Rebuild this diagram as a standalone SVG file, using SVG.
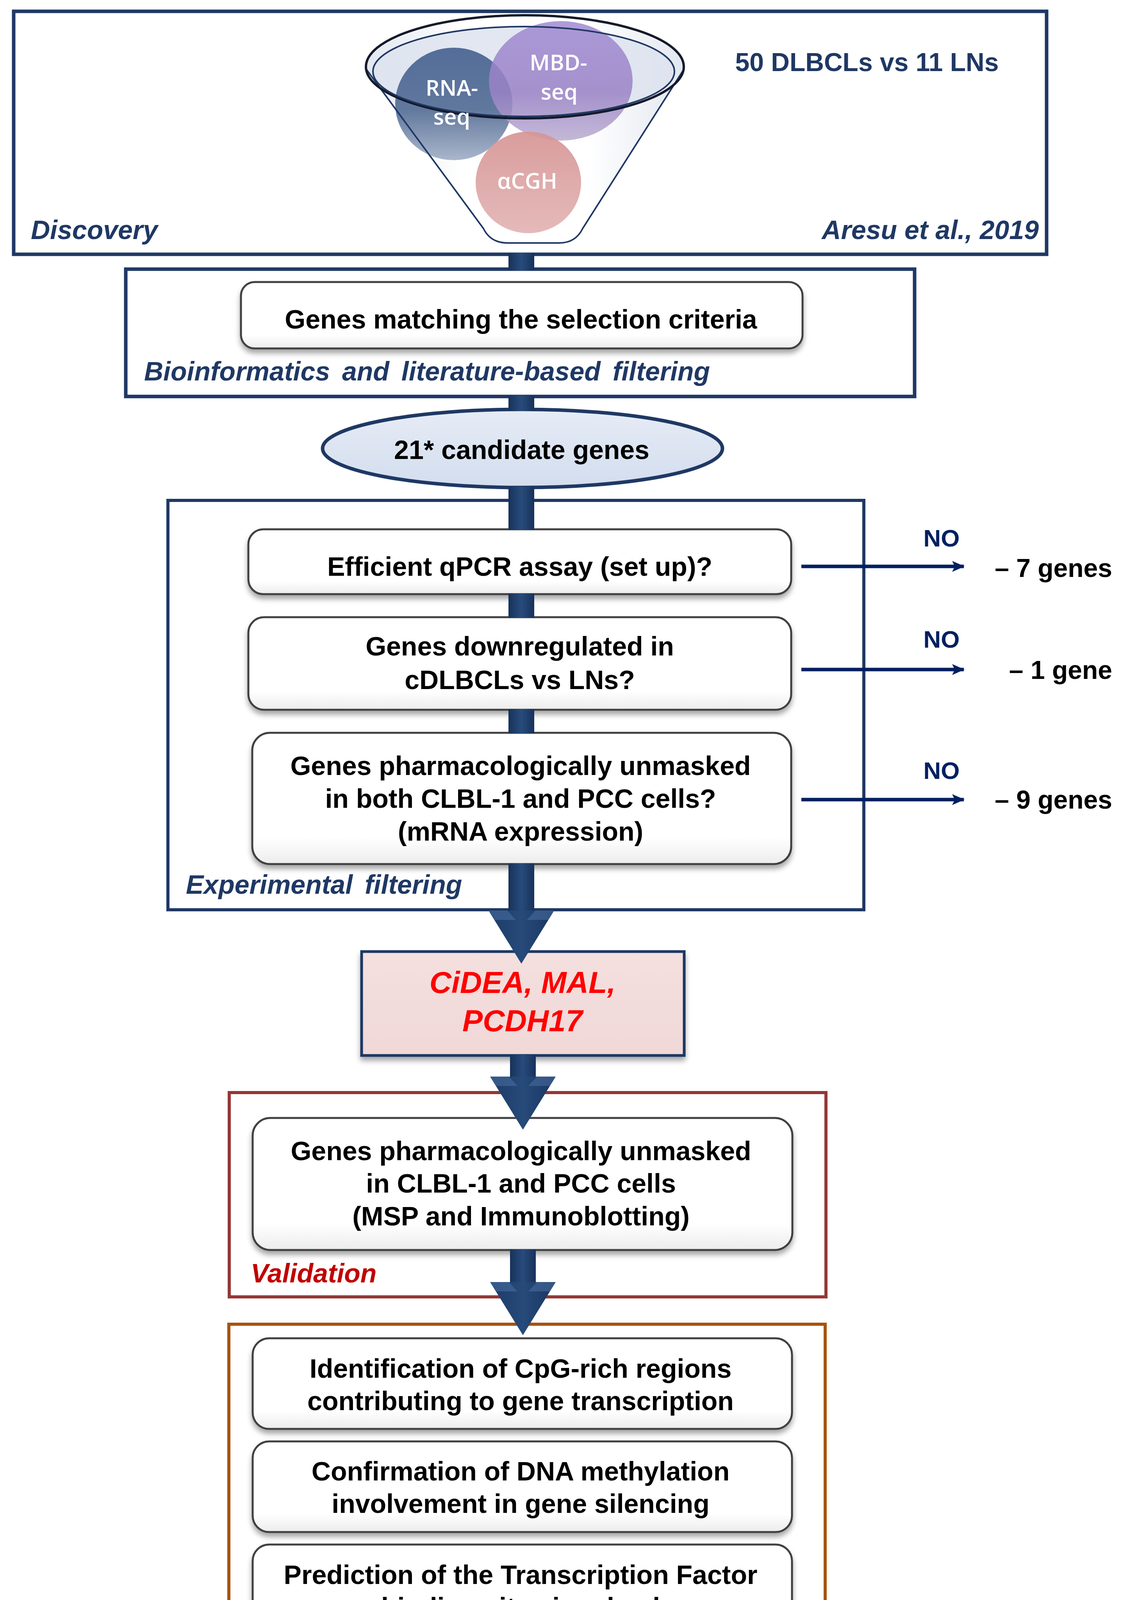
<svg xmlns="http://www.w3.org/2000/svg" width="2891" height="4517" viewBox="0 0 2891 4517">
<style>
.bt{font-family:"Liberation Sans",Arial,sans-serif;font-weight:bold;font-size:68px;fill:#000;text-anchor:middle}
.lbl{font-family:"Liberation Sans",Arial,sans-serif;font-weight:bold;font-style:italic;font-size:68px}
.side{font-family:"Liberation Sans",Arial,sans-serif;font-weight:bold;font-size:66px;fill:#000;text-anchor:end}
.no{font-family:"Liberation Sans",Arial,sans-serif;font-weight:bold;font-size:62px;fill:#002060;text-anchor:middle}
.rbox{fill:url(#boxGrad);stroke:#404040;stroke-width:5;filter:url(#shadow)}
.ct{font-family:"Open Sans","Liberation Sans",sans-serif;font-weight:600;font-size:56px;fill:#fff;text-anchor:middle}
.bar{fill:url(#barGrad)}
.noarrow{stroke:#002060;stroke-width:9;fill:none;marker-end:url(#head)}
</style>
<defs>
<linearGradient id="boxGrad" x1="0" y1="0" x2="0" y2="1"><stop offset="0" stop-color="#ffffff"/><stop offset="0.8" stop-color="#ffffff"/><stop offset="1" stop-color="#ececec"/></linearGradient>
<linearGradient id="barGrad" x1="0" y1="0" x2="1" y2="0"><stop offset="0" stop-color="#17325a"/><stop offset="0.5" stop-color="#284b7c"/><stop offset="1" stop-color="#17325a"/></linearGradient>
<linearGradient id="arrowGrad" x1="0" y1="0" x2="1" y2="0"><stop offset="0" stop-color="#1d3b68"/><stop offset="0.5" stop-color="#264a7a"/><stop offset="1" stop-color="#1a355f"/></linearGradient>
<linearGradient id="ellGrad" x1="0" y1="0" x2="0" y2="1"><stop offset="0" stop-color="#e6ecf6"/><stop offset="1" stop-color="#d3ddee"/></linearGradient>
<linearGradient id="rnaGrad" x1="0" y1="0" x2="0" y2="1"><stop offset="0" stop-color="#4b6794"/><stop offset="0.55" stop-color="#5a7299"/><stop offset="1" stop-color="#a5b2c8"/></linearGradient>
<linearGradient id="mbdGrad" x1="0" y1="0" x2="0" y2="1"><stop offset="0" stop-color="#a08ad2"/><stop offset="0.6" stop-color="#9a82c6"/><stop offset="1" stop-color="#b9accf"/></linearGradient>
<linearGradient id="cghGrad" x1="0" y1="0" x2="0" y2="1"><stop offset="0" stop-color="#d69494"/><stop offset="1" stop-color="#e3b4b4"/></linearGradient>
<linearGradient id="funGrad" x1="0" y1="0" x2="1" y2="0"><stop offset="0" stop-color="#dfe4ee"/><stop offset="0.3" stop-color="#ffffff"/><stop offset="0.7" stop-color="#ffffff"/><stop offset="1" stop-color="#dfe4ee"/></linearGradient>
<linearGradient id="cideaGrad" x1="0" y1="0" x2="0" y2="1"><stop offset="0" stop-color="#f4e0df"/><stop offset="1" stop-color="#f0d8d7"/></linearGradient>
<filter id="shadow" x="-5%" y="-10%" width="110%" height="130%"><feDropShadow dx="0" dy="10" stdDeviation="7" flood-color="#000" flood-opacity="0.35"/></filter>
<marker id="head" viewBox="0 0 32 28" refX="30" refY="14" markerWidth="32" markerHeight="28" markerUnits="userSpaceOnUse" orient="auto"><path d="M0,0 L32,14 L0,28 L7,14 Z" fill="#002060"/></marker>
<g id="bigArrow">
<polygon points="-84,0 84,0 0,136" fill="url(#arrowGrad)"/>
<polygon points="-84,0 -36,0 -14,24 -69,24" fill="#4a6fa3" opacity="0.55"/>
<polygon points="84,0 36,0 14,24 69,24" fill="#4a6fa3" opacity="0.55"/>
</g>
</defs>
<rect width="2891" height="4517" fill="#ffffff"/>

<g id="discovery">
<rect x="35" y="29" width="2645" height="622" fill="#fff" stroke="#1F3864" stroke-width="9"/>
<path d="M937,176 L1238,585 Q1256,622 1300,622 L1432,622 Q1474,622 1492,585 L1752,176 A407,132 0 0 0 937,176 Z" fill="url(#funGrad)" opacity="0.9"/>
<ellipse cx="1341" cy="183" rx="386" ry="115" fill="#dde3ef" opacity="0.85"/>
<ellipse cx="1162" cy="266" rx="150" ry="144" fill="url(#rnaGrad)" opacity="0.95"/>
<ellipse cx="1436" cy="207" rx="184" ry="153" fill="url(#mbdGrad)" opacity="0.85"/>
<ellipse cx="1353" cy="467" rx="135" ry="130" fill="url(#cghGrad)" opacity="0.92"/>
<path d="M937,176 L1238,585 Q1256,622 1300,622 L1432,622 Q1474,622 1492,585 L1752,176" fill="none" stroke="#1F3864" stroke-width="4"/>
<ellipse cx="1344" cy="171" rx="407" ry="132" fill="none" stroke="#141a2a" stroke-width="6"/>
<ellipse cx="1341" cy="183" rx="386" ry="115" fill="none" stroke="#1F3864" stroke-width="4"/>
<text class="ct" x="1157" y="245">RNA-</text>
<text class="ct" x="1157" y="319">seq</text>
<text class="ct" x="1430" y="180">MBD-</text>
<text class="ct" x="1432" y="255">seq</text>
<text class="ct" x="1350" y="483">αCGH</text>
<text class="bt" x="2220" y="182" style="fill:#1F3864;font-size:66px">50 DLBCLs vs 11 LNs</text>
<text class="lbl" x="79" y="612" fill="#1F3864">Discovery</text>
<text class="lbl" x="2660" y="612" fill="#1F3864" text-anchor="end">Aresu et al., 2019</text>
</g>

<g id="bioinformatics">
<rect x="322" y="689" width="2020" height="326" fill="#fff" stroke="#1F3864" stroke-width="9"/>
<rect class="rbox" x="617" y="722" width="1438" height="170" rx="35"/>
<text class="bt" x="1334" y="841">Genes matching the selection criteria</text>
<text class="lbl" x="369" y="974" fill="#1F3864" word-spacing="12">Bioinformatics and literature-based filtering</text>
</g>

<g id="experimental-frame">
<rect x="430" y="1281" width="1782" height="1048" fill="#fff" stroke="#1F3864" stroke-width="8"/>
<text class="lbl" x="476" y="2288" fill="#1F3864" word-spacing="12">Experimental filtering</text>
</g>

<g id="validation-frame">
<rect x="587" y="2797" width="1528" height="523" fill="#fff" stroke="#953735" stroke-width="8"/>
<text class="lbl" x="642" y="3283" fill="#C00000">Validation</text>
</g>

<g id="molecular-frame">
<rect x="586" y="3390" width="1527" height="925" fill="#fff" stroke="#A65310" stroke-width="8"/>
<text class="lbl" x="640" y="4267" fill="#A85512" word-spacing="12">Molecular studies</text>
</g>

<g id="candidates">
<ellipse cx="1338" cy="1148" rx="512" ry="100" fill="url(#ellGrad)" stroke="#1F3864" stroke-width="9"/>
<text class="bt" x="1336" y="1175">21* candidate genes</text>
</g>

<g id="qpcr">
<rect class="rbox" x="636" y="1355" width="1390" height="166" rx="38"/>
<text class="bt" x="1331" y="1474">Efficient qPCR assay (set up)?</text>
</g>

<g id="downregulated">
<rect class="rbox" x="636" y="1580" width="1390" height="237" rx="40"/>
<text class="bt" x="1331" y="1678">Genes downregulated in</text>
<text class="bt" x="1331" y="1764">cDLBCLs vs LNs?</text>
</g>

<g id="unmasked-mrna">
<rect class="rbox" x="646" y="1876" width="1380" height="336" rx="45"/>
<text class="bt" x="1333" y="1984">Genes pharmacologically unmasked</text>
<text class="bt" x="1333" y="2068">in both CLBL-1 and PCC cells?</text>
<text class="bt" x="1333" y="2152">(mRNA expression)</text>
</g>

<g id="excluded">
<text class="no" x="2411" y="1399">NO</text>
<text class="side" x="2848" y="1477">– 7 genes</text>
<text class="no" x="2411" y="1658">NO</text>
<text class="side" x="2848" y="1738">– 1 gene</text>
<text class="no" x="2411" y="1994">NO</text>
<text class="side" x="2848" y="2070">– 9 genes</text>
</g>

<g id="genes">
<rect x="926" y="2436" width="826" height="266" fill="url(#cideaGrad)" stroke="#1F3864" stroke-width="7" filter="url(#shadow)"/>
<text class="lbl" x="1338" y="2542" fill="#FF0000" text-anchor="middle" style="font-size:78px">CiDEA, MAL,</text>
<text class="lbl" x="1338" y="2640" fill="#FF0000" text-anchor="middle" style="font-size:78px">PCDH17</text>
</g>

<g id="validation-step">
<rect class="rbox" x="647" y="2862" width="1382" height="338" rx="45"/>
<text class="bt" x="1334" y="2970">Genes pharmacologically unmasked</text>
<text class="bt" x="1334" y="3053">in CLBL-1 and PCC cells</text>
<text class="bt" x="1334" y="3137">(MSP and Immunoblotting)</text>
</g>

<g id="cpg">
<rect class="rbox" x="647" y="3426" width="1381" height="232" rx="42"/>
<text class="bt" x="1333" y="3527">Identification of CpG-rich regions</text>
<text class="bt" x="1333" y="3610">contributing to gene transcription</text>
</g>

<g id="methylation">
<rect class="rbox" x="647" y="3690" width="1381" height="232" rx="42"/>
<text class="bt" x="1333" y="3790">Confirmation of DNA methylation</text>
<text class="bt" x="1333" y="3873">involvement in gene silencing</text>
</g>

<g id="tfbs">
<rect class="rbox" x="647" y="3954" width="1381" height="232" rx="42"/>
<text class="bt" x="1333" y="4055">Prediction of the Transcription Factor</text>
<text class="bt" x="1333" y="4138">binding sites involved</text>
</g>

<g id="footnote">
<text class="lbl" x="85" y="4472" fill="#000">* HOXD10 results have been published elsewhere</text>
</g>

<g id="connectors">
<rect class="bar" x="1302" y="647" width="66" height="46"/>
<rect class="bar" x="1302" y="1012" width="66" height="40"/>
<rect class="bar" x="1302" y="1246" width="66" height="111"/>
<rect class="bar" x="1302" y="1519" width="66" height="63"/>
<rect class="bar" x="1302" y="1815" width="66" height="63"/>
<rect class="bar" x="1302" y="2210" width="66" height="124"/>
<use href="#bigArrow" x="1335" y="2331"/>
<rect class="bar" x="1306" y="2700" width="66" height="58"/>
<use href="#bigArrow" x="1339" y="2756"/>
<rect class="bar" x="1306" y="3198" width="66" height="86"/>
<use href="#bigArrow" x="1339" y="3282"/>
<line class="noarrow" x1="2052" y1="1450" x2="2468" y2="1450"/>
<line class="noarrow" x1="2052" y1="1714" x2="2468" y2="1714"/>
<line class="noarrow" x1="2052" y1="2047" x2="2468" y2="2047"/>
</g>
</svg>
